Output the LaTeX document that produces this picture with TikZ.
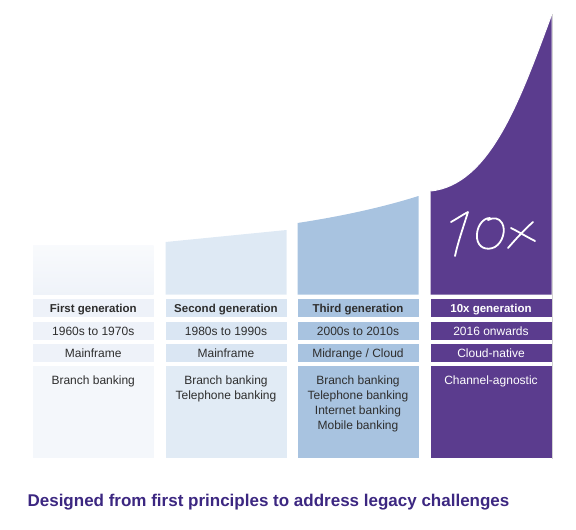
\documentclass[tikz,border=0pt]{standalone}
\usepackage{fontspec}
\setmainfont{Liberation Sans}
\definecolor{ca}{HTML}{EFF3F9}
\definecolor{cb}{HTML}{DAE6F3}
\definecolor{cc}{HTML}{A8C3E0}
\definecolor{cd}{HTML}{5B3C8E}
\definecolor{tx}{HTML}{2E2E2E}
\definecolor{ttl}{HTML}{3C2781}
\begin{document}
\begin{tikzpicture}[x=1pt,y=-1pt,
  cell/.style={rectangle, draw=none, inner sep=0pt, minimum width=121pt, text=tx, text height=8.6pt, text depth=0pt, font=\fontsize{12}{14}\selectfont},
  hdr/.style={cell, font=\fontsize{11.5}{14}\selectfont\bfseries, minimum height=18pt},
  row/.style={cell, minimum height=17.5pt},
  big/.style={cell, minimum height=92pt},
  lst/.style={inner sep=0pt, anchor=north, align=center, text=tx, font=\fontsize{12}{15}\selectfont},
  hand/.style={draw=white, line width=1.8pt, line cap=round, line join=round}]
\useasboundingbox (0,0) rectangle (576,530);
% top blocks
\shade[top color=ca!40, bottom color=ca, shading angle=0] (33,245) rectangle (153.5,294.5);
\fill[cb!90] (165.5,242) -- (286.5,230) -- (286.5,294.5) -- (165.5,294.5) -- cycle;
\fill[cc] (297.5,223) .. controls (350,215) and (390,205) .. (418.5,196) -- (418.5,294.5) -- (297.5,294.5) -- cycle;
\fill[gray!35] (553,14) -- (553,459) -- (551.5,459) -- (551.5,14) -- cycle;
\fill[cd] (430.5,191) .. controls (490,185) and (520,100) .. (551.5,15) -- (551.5,294.5) -- (430.5,294.5) -- cycle;
\draw[white, line width=1pt] (430.5,191) .. controls (490,185) and (520,100) .. (551.5,15);
% handwritten 10x
\draw[hand] (451,222) .. controls (458,218) and (464,214) .. (468,212) .. controls (463,228) and (458,242) .. (455,256);
\draw[hand] (490,218) .. controls (482,218) and (476,228) .. (477,238) .. controls (478,248) and (487,251) .. (495,247) .. controls (503,242) and (506,230) .. (502,223) .. controls (499,218) and (494,217) .. (488,220);
\draw[hand] (511,228) .. controls (519,232) and (527,237) .. (535,241);
\draw[hand] (533,222) .. controls (524,230) and (515,240) .. (508,248);
% column 1
\node[hdr, fill=ca!95!cb] (a1) at (93.25,308) {First generation};
\node[row, fill=ca!95!cb] (a2) at (93.25,330.75) {1960s to 1970s};
\node[row, fill=ca!95!cb] (a3) at (93.25,352.75) {Mainframe};
\node[big, fill=ca!70] (a4) at (93.25,412) {};
\node[lst] (a5) at (93.25,375.5) {Branch banking};
% column 2
\node[hdr, fill=cb] (b1) at (226,308) {Second generation};
\node[row, fill=cb] (b2) at (226,330.75) {1980s to 1990s};
\node[row, fill=cb] (b3) at (226,352.75) {Mainframe};
\node[big, fill=cb!80] (b4) at (226,412) {};
\node[lst] (b5) at (226,375.5) {Branch banking\\Telephone banking};
% column 3
\node[hdr, fill=cc] (c1) at (358,308) {Third generation};
\node[row, fill=cc] (c2) at (358,330.75) {2000s to 2010s};
\node[row, fill=cc] (c3) at (358,352.75) {Midrange / Cloud};
\node[big, fill=cc] (c4) at (358,412) {};
\node[lst] (c5) at (358,375.5) {Branch banking\\Telephone banking\\Internet banking\\Mobile banking};
% column 4
\node[hdr, fill=cd, text=white] (d1) at (491,308) {10x generation};
\node[row, fill=cd, text=white] (d2) at (491,330.75) {2016 onwards};
\node[row, fill=cd, text=white] (d3) at (491,352.75) {Cloud-native};
\node[big, fill=cd] (d4) at (491,412) {};
\node[lst, text=white] (d5) at (491,375.5) {Channel-agnostic};
% title
\node[inner sep=0pt, text=ttl, font=\fontsize{17}{20}\selectfont\bfseries] (t) at (268.5,502) {Designed from first principles to address legacy challenges};
\end{tikzpicture}
\end{document}
